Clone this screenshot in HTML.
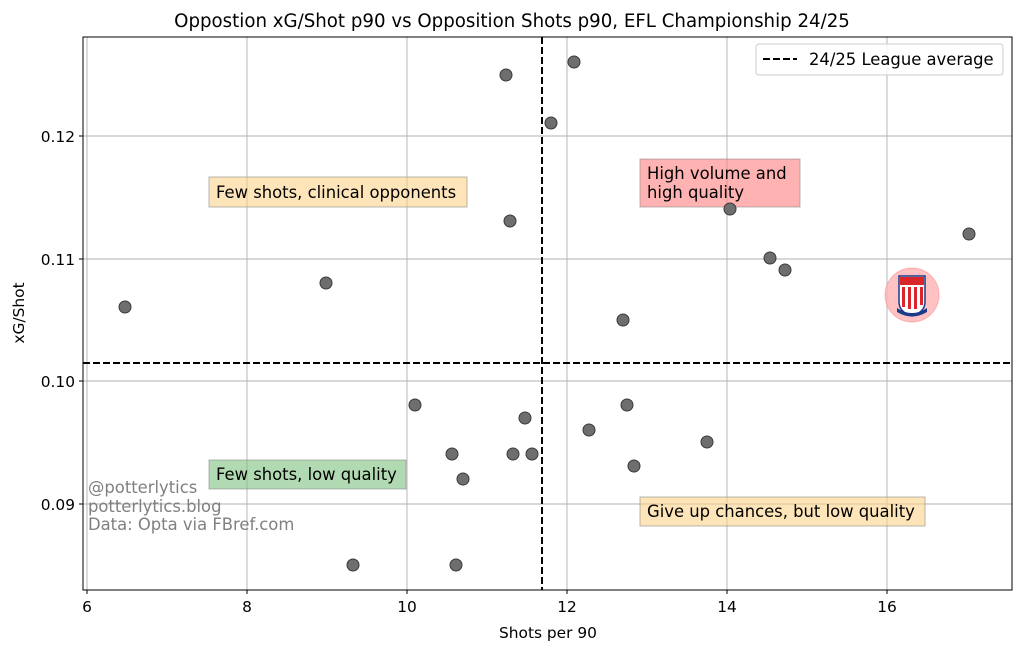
<!DOCTYPE html>
<html><head><meta charset="utf-8"><style>
body{margin:0;background:#fff}
text{font-family:"DejaVu Sans","Liberation Sans",sans-serif}
</style></head><body>
<svg width="1024" height="653" xmlns="http://www.w3.org/2000/svg">
<rect width="1024" height="653" fill="#fff"/>
<text x="512" y="27" font-size="18.2" text-anchor="middle">Oppostion xG/Shot p90 vs  Opposition Shots p90, EFL Championship 24/25</text>
<g stroke="#b0b0b0" stroke-width="0.9">
<line x1="87" y1="37" x2="87" y2="590"/><line x1="247" y1="37" x2="247" y2="590"/><line x1="407" y1="37" x2="407" y2="590"/><line x1="567" y1="37" x2="567" y2="590"/><line x1="727" y1="37" x2="727" y2="590"/><line x1="887" y1="37" x2="887" y2="590"/>
<line x1="83" y1="136" x2="1012" y2="136"/><line x1="83" y1="259" x2="1012" y2="259"/><line x1="83" y1="381" x2="1012" y2="381"/><line x1="83" y1="504" x2="1012" y2="504"/>
</g>
<g stroke="#000" stroke-width="2" stroke-dasharray="7,3">
<line x1="542" y1="37" x2="542" y2="590"/><line x1="83" y1="363" x2="1012" y2="363"/>
</g>
<g fill="#fbd38a" fill-opacity="0.6" stroke="#888" stroke-opacity="0.6">
<rect x="209" y="177" width="258" height="30"/>
<rect x="640" y="497" width="285" height="29"/>
</g>
<rect x="640" y="159" width="160" height="48" fill="#ff7f7f" fill-opacity="0.6" stroke="#888" stroke-opacity="0.6"/>
<rect x="209" y="460" width="197" height="29" fill="#7fc27f" fill-opacity="0.6" stroke="#888" stroke-opacity="0.6"/>
<g font-size="16.4">
<text x="216" y="198">Few shots, clinical opponents</text>
<text x="647" y="179">High volume and</text><text x="647" y="198">high quality</text>
<text x="216" y="480">Few shots, low quality</text>
<text x="647" y="517">Give up chances, but low quality</text>
</g>
<g font-size="16.4" fill="#808080">
<text x="88" y="493">@potterlytics</text><text x="88" y="512">potterlytics.blog</text><text x="88" y="530">Data: Opta via FBref.com</text>
</g>
<g fill="#6e6e6e" stroke="#3a3a3a" stroke-width="1">
<circle cx="125" cy="307" r="6"/><circle cx="326" cy="283" r="6"/><circle cx="506" cy="75" r="6"/><circle cx="574" cy="62" r="6"/><circle cx="551" cy="123" r="6"/><circle cx="510" cy="221" r="6"/><circle cx="730" cy="209" r="6"/><circle cx="969" cy="234" r="6"/><circle cx="770" cy="258" r="6"/><circle cx="785" cy="270" r="6"/><circle cx="623" cy="320" r="6"/><circle cx="415" cy="405" r="6"/><circle cx="525" cy="418" r="6"/><circle cx="627" cy="405" r="6"/><circle cx="589" cy="430" r="6"/><circle cx="707" cy="442" r="6"/><circle cx="452" cy="454" r="6"/><circle cx="513" cy="454" r="6"/><circle cx="532" cy="454" r="6"/><circle cx="463" cy="479" r="6"/><circle cx="634" cy="466" r="6"/><circle cx="353" cy="565" r="6"/><circle cx="456" cy="565" r="6"/>
</g>
<circle cx="912" cy="295" r="27" fill="#ffb3b3" fill-opacity="0.8" stroke="#ff8080" stroke-opacity="0.5"/>
<path d="M899 276 H925 V302 Q925 312 912 316 Q899 312 899 302 Z" fill="#fff" stroke="#1a3a8a" stroke-width="1.5"/>
<rect x="900" y="277" width="24" height="8" fill="#d9262b"/>
<g fill="#d9262b"><rect x="902" y="287" width="3" height="20"/><rect x="908" y="287" width="3" height="22"/><rect x="914" y="287" width="3" height="22"/><rect x="920" y="287" width="3" height="18"/></g>
<path d="M897 308 Q912 318 927 308 L927 312 Q912 321 897 312Z" fill="#1a3a8a"/>
<rect x="83" y="37" width="929" height="553" fill="none" stroke="#000" stroke-width="1"/>
<g stroke="#000"><line x1="87" y1="590" x2="87" y2="594"/><line x1="247" y1="590" x2="247" y2="594"/><line x1="407" y1="590" x2="407" y2="594"/><line x1="567" y1="590" x2="567" y2="594"/><line x1="727" y1="590" x2="727" y2="594"/><line x1="887" y1="590" x2="887" y2="594"/>
<line x1="79" y1="136" x2="83" y2="136"/><line x1="79" y1="259" x2="83" y2="259"/><line x1="79" y1="381" x2="83" y2="381"/><line x1="79" y1="504" x2="83" y2="504"/></g>
<g font-size="15.4" text-anchor="middle">
<text x="87" y="612">6</text><text x="247" y="612">8</text><text x="407" y="612">10</text><text x="567" y="612">12</text><text x="727" y="612">14</text><text x="887" y="612">16</text>
</g>
<g font-size="15.4" text-anchor="end">
<text x="75" y="142">0.12</text><text x="75" y="265">0.11</text><text x="75" y="387">0.10</text><text x="75" y="510">0.09</text>
</g>
<text x="548" y="638" font-size="15.4" text-anchor="middle">Shots per 90</text>
<text transform="translate(24,313) rotate(-90)" font-size="15.4" text-anchor="middle">xG/Shot</text>
<rect x="756" y="44" width="247" height="31" rx="3" fill="#fff" fill-opacity="0.8" stroke="#ccc"/>
<line x1="763" y1="59" x2="797" y2="59" stroke="#000" stroke-width="2" stroke-dasharray="7,3"/>
<text x="809" y="65" font-size="16.4">24/25 League average</text>
</svg>
</body></html>
